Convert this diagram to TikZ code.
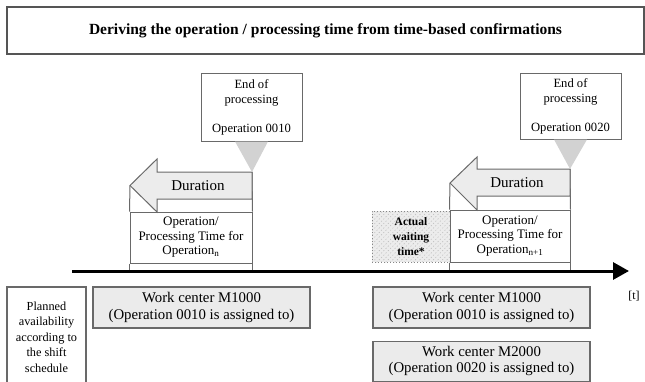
\documentclass[tikz,border=0pt]{standalone}
\usepackage{fontspec}
\setmainfont{Liberation Serif}
\usetikzlibrary{positioning,arrows.meta,patterns.meta}
\definecolor{cEdge}{RGB}{105,105,105}
\definecolor{cFrame}{RGB}{85,85,85}
\definecolor{cDur}{RGB}{236,236,236}
\definecolor{cPtr}{RGB}{210,210,210}
\definecolor{cWc}{RGB}{235,235,235}
\definecolor{cWait}{RGB}{236,236,236}
\definecolor{cHatch}{RGB}{185,185,185}
\tikzset{
  box/.style={
    rectangle, draw=cEdge, line width=1pt, align=center, text=black,
    inner sep=0pt, font=\fontsize{12.6}{15}\selectfont,
  },
  titlebox/.style={box, draw=cFrame, line width=1.5pt,
    font=\fontsize{15.5}{18}\selectfont\bfseries},
  endbox/.style={box, minimum width=101pt},
  opbox/.style={box, font=\fontsize{13}{14.5}\selectfont},
  wcbox/.style={box, fill=cWc, line width=1.2pt, minimum width=217pt,
    font=\fontsize{14.8}{16.5}\selectfont},
  planbox/.style={box, line width=1.2pt, minimum width=79pt,
    font=\fontsize{12.3}{15.5}\selectfont},
  waitbox/.style={box, draw=cEdge!80, dotted, line width=1pt,
    preaction={fill=cWait},
    pattern={Lines[angle=45,distance=3.2pt,line width=0.5pt]}, pattern color=cHatch,
    font=\fontsize{11.5}{15}\selectfont\bfseries},
  durarr/.style={draw=cEdge, line width=1pt, fill=cDur, line join=miter},
  durlab/.style={font=\fontsize{15}{17}\selectfont, inner sep=0pt},
  ptr/.style={fill=cPtr},
  side/.style={draw=cEdge, line width=1pt},
  timeline/.style={-{Triangle[length=16pt,width=17pt]}, line width=3pt, draw=black},
}
\begin{document}
\begin{tikzpicture}[x=1pt, y=-1pt]
\useasboundingbox (0,0) rectangle (645,381);

% ===== title =====
\node[titlebox, minimum width=637pt, minimum height=47pt] (title) at (325.5,30.5)
  {Deriving the operation / processing time from time-based confirmations};

% ===== end of processing markers =====
\node[endbox, minimum height=68pt] (end1) at (251.5,107)
  {End of\\ processing\\[14pt] Operation 0010};
\node[endbox, minimum height=66pt] (end2) at (570.5,106)
  {End of\\ processing\\[14pt] Operation 0020};

% ===== operation n =====
\node[opbox, minimum width=122pt, minimum height=51pt] (op1) at (191,237.5)
  {Operation/\\ Processing Time for\\ Operation\textsubscript{n}};
\coordinate (tip1) at (252,172);
\draw[side] (130,185.5) -- (op1.north west);
\draw[side] (tip1) -- (op1.north east);
\draw[durarr] (tip1) -- (157,172) -- (157,159) -- (130,185.5) -- (157,212)
  -- (157,199) -- (252,199) -- cycle;
\node[durlab] (dur1) at (198,186) {Duration};
\fill[ptr] ([xshift=-16.5pt]end1.south) -- ([xshift=16.5pt]end1.south) -- (tip1) -- cycle;

% ===== operation n+1 =====
\node[waitbox, minimum width=78pt, minimum height=51pt] (wait) at (411,236.5)
  {Actual\\ waiting\\ time*};
\node[opbox, minimum width=120pt, minimum height=52pt] (op2) at (510,236)
  {Operation/\\ Processing Time for\\ Operation\textsubscript{n+1}};
\coordinate (tip2) at (570,169);
\draw[side] (450,183) -- (op2.north west);
\draw[side] (tip2) -- (op2.north east);
\draw[durarr] (tip2) -- (477,169) -- (477,157) -- (450,183) -- (477,210)
  -- (477,196) -- (570,196) -- cycle;
\node[durlab] (dur2) at (517,183) {Duration};
\fill[ptr] ([xshift=-16.5pt]end2.south) -- ([xshift=16.5pt]end2.south) -- (tip2) -- cycle;

% ===== time axis =====
\coordinate (tstart) at (72,271);
\coordinate (tend) at (629,271);
\draw[side] (op1.south west) -- (op1.south west |- tstart);
\draw[side] (op1.south east) -- (op1.south east |- tstart);
\draw[side] (op2.south west) -- (op2.south west |- tstart);
\draw[side] (op2.south east) -- (op2.south east |- tstart);
\draw[timeline] (tstart) -- (tend);
\node[font=\fontsize{12}{14}\selectfont, inner sep=0pt] (tunit) at (634,296) {[t]};

% ===== shift schedule =====
\node[planbox, minimum height=100pt] (plan) at (46.5,337)
  {Planned\\ availability\\ according to\\ the shift\\ schedule};
\node[wcbox, minimum height=41pt] (wc1) at (201.5,307.5)
  {Work center M1000\\ (Operation 0010 is assigned to)};
\node[wcbox, minimum height=41pt] (wc2) at (481.5,307.5)
  {Work center M1000\\ (Operation 0010 is assigned to)};
\node[wcbox, minimum height=40pt, below=12pt of wc2] (wc3)
  {Work center M2000\\ (Operation 0020 is assigned to)};

\end{tikzpicture}
\end{document}
